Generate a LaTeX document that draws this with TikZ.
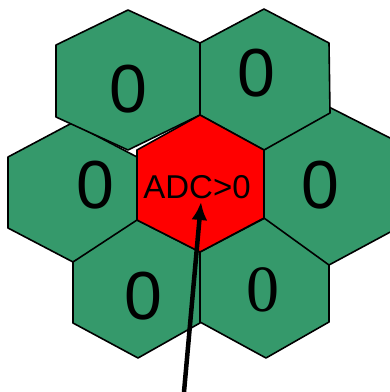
\documentclass[tikz,border=0pt]{standalone}
\usepackage{fontspec}
\setmainfont{Liberation Sans}
\newfontfamily\serifdigit{Liberation Serif}
\usetikzlibrary{arrows.meta}
\definecolor{cellgreen}{RGB}{53,153,107}

\begin{document}
\begin{tikzpicture}[x=1pt, y=-1pt,
        cell/.style={draw=black, fill=cellgreen, line width=1.6pt, line join=round},
        hot/.style={cell, fill=red},
        digit/.style={font=\fontsize{68}{68}\selectfont, inner sep=0pt},
        arrow/.style={-{Latex[length=18pt, width=16pt]}, line width=4.5pt}
    ]
        \useasboundingbox (0,0) rectangle (390,392);
        % cells, back to front
        \draw[cell] (72,123) -- (137,157) -- (137,228) -- (73,262) -- (8,228) -- (8,157) -- cycle;
        \draw[cell] (137,220) -- (200,252) -- (200,323) -- (138,358) -- (73,323) -- (73,262) -- cycle;
        \draw[cell] (265,218) -- (329,253) -- (329,322) -- (266,358) -- (200,322) -- (200,252) -- cycle;
        \draw[cell] (329,107) -- (394,140) -- (394,230) -- (329,265) -- (264,218) -- (264,150) -- cycle;
        \draw[cell] (128,10) -- (200,43) -- (200,115) -- (128,150) -- (56,117) -- (56,45) -- cycle;
        \draw[cell] (264,9) -- (329,43) -- (330,113) -- (264,150) -- (200,115) -- (200,43) -- cycle;
        \draw[hot] (200,115) -- (264,150) -- (264,218) -- (200,252) -- (137,220) -- (137,150) -- cycle;

        \node[digit] (tl) at (128,89) {0};
        \node[digit] (tr) at (256,73) {0};
        \node[digit] (lm) at (95,185) {0};
        \node[digit] (rm) at (320,185) {0};
        \node[digit] (bl) at (143,296) {0};
        \node[inner sep=0pt, font=\serifdigit\fontsize{66}{66}\selectfont] (br) at (263,290) {0};
        \node[inner sep=0pt, font=\fontsize{33}{33}\selectfont] (adc) at (197,187) {ADC>0};

        \coordinate (tail) at (184,392);
        \coordinate (tip) at (201,202);
        \draw[arrow] (tail) -- (tip);
    \end{tikzpicture}
\end{document}
